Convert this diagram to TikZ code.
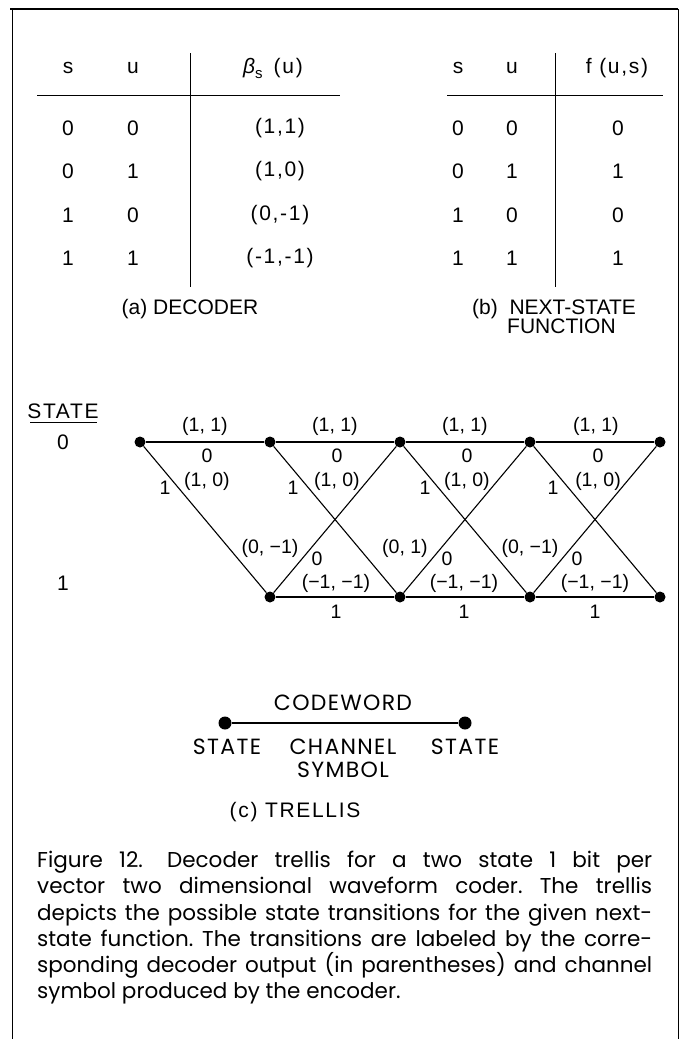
\documentclass[tikz,border=0pt]{standalone}
\usepackage{fontspec}
\setmainfont{Liberation Sans}
\newfontfamily\capfont{Poppins}
\newfontfamily\widefont[LetterSpace=8]{Liberation Sans}
\newfontfamily\legfamily[LetterSpace=6]{Poppins}
\newcommand\tabfont{\widefont\fontsize{21}{25}\selectfont}
\newcommand\subcapfont{\fontsize{21}{25}\selectfont}
\newcommand\trfont{\fontsize{19.5}{23}\selectfont}
\newcommand\legfont{\legfamily\fontsize{22}{26}\selectfont}
\newcommand\capsize{\fontsize{21.5}{26}\selectfont}
\begin{document}
\frenchspacing
\begin{tikzpicture}[x=1pt,y=-1pt,
  tab/.style={inner sep=0pt,font=\tabfont},
  subcap/.style={inner sep=0pt,font=\subcapfont},
  lab/.style={inner sep=0pt,font=\trfont},
  leg/.style={inner sep=0pt,font=\legfont},
  dot/.style={circle,fill=black,inner sep=0pt,minimum size=11pt},
  bigdot/.style={circle,fill=black,inner sep=0pt,minimum size=13pt},
  edge/.style={line width=1.1pt},
  rule/.style={line width=1pt},
  capline/.style={anchor=base west,inner sep=0pt,font=\capfont\capsize}]
\useasboundingbox (0,0) rectangle (688,1039);
% frame
\draw[line width=1.4pt] (10,9) -- (678,9);
\draw[line width=1pt] (12,9) -- (12,1039);
\draw[line width=1pt] (678,9) -- (678,1039);

% ---- table (a)
\node[tab] (ah1) at (68,68) {s};
\node[tab] (ah2) at (133,68) {u};
\node[tab] (ah3) at (273,68) {{\itshape β}\raisebox{-5pt}{\fontsize{15}{17}\selectfont s}\ \,(u)};
\draw[rule] (37,95) -- (340,95);
\draw[rule] (190,53) -- (190,287);
\foreach \y/\s/\u/\b [count=\i] in {128/0/0/{(1,1)},171/0/1/{(1,0)},215/1/0/{(0,-1)},258/1/1/{(-1,-1)}}{
  \node[tab] (as\i) at (68,\y) {\s};
  \node[tab] (au\i) at (133,\y) {\u};
  \node[tab] (ab\i) at (280,\y) {\b};
}
\node[subcap] (acap) at (190,309) {(a) DECODER};

% ---- table (b)
\node[tab] (bh1) at (458,68) {s};
\node[tab] (bh2) at (512,68) {u};
\node[tab] (bh3) at (617,68) {f (u,s)};
\draw[rule] (447,95) -- (663,95);
\draw[rule] (555,53) -- (555,287);
\foreach \y/\s/\u/\f [count=\i] in {128/0/0/0,171/0/1/1,215/1/0/0,258/1/1/1}{
  \node[tab] (bs\i) at (458,\y) {\s};
  \node[tab] (bu\i) at (512,\y) {\u};
  \node[tab] (bf\i) at (618,\y) {\f};
}
\node[subcap,anchor=north west,align=left] (bcap) at (472,299) {(b)\ \ NEXT-STATE\\[-6pt]\hspace{35pt}FUNCTION};

% ---- trellis
\node[tab] (stl) at (63,411) {STATE};
\draw[rule] (30,422) -- (97,422);
\node[tab] (st0) at (63,442) {0};
\node[tab] (st1) at (63,583) {1};

\foreach \x [count=\i from 0] in {140,270,400,530,660}{
  \node[dot] (T\i) at (\x,442) {};
}
\foreach \x [count=\i from 1] in {270,400,530,660}{
  \node[dot] (B\i) at (\x,597) {};
}
\draw[edge] (T0) -- (T1) -- (T2) -- (T3) -- (T4);
\draw[edge] (B1) -- (B2) -- (B3) -- (B4);
\draw[edge] (T0) -- (B1);
\draw[edge] (T1) -- (B2);
\draw[edge] (T2) -- (B3);
\draw[edge] (T3) -- (B4);
\draw[edge] (B1) -- (T2);
\draw[edge] (B2) -- (T3);
\draw[edge] (B3) -- (T4);

% top labels
\foreach \x/\xo [count=\i] in {205/165,335/293,465/425,596/553}{
  \node[lab] (p\i) at (\x,426) {(1, 1)};
  \node[lab] (z\i) at (\x+2,456) {0};
  \node[lab] (q\i) at (\x+2,481) {(1, 0)};
  \node[lab] (o\i) at (\xo,488) {1};
}
% bottom labels
\node[lab] (r2) at (270,548) {(0, −1)};
\node[lab] (r3) at (405,548) {(0, 1)};
\node[lab] (r4) at (530,548) {(0, −1)};
\foreach \x [count=\i from 2] in {317,447,577}{
  \node[lab] (w\i) at (\x,559) {0};
}
\foreach \x [count=\i from 2] in {336,464,595}{
  \node[lab] (m\i) at (\x,583) {(−1, −1)};
  \node[lab] (n\i) at (\x,612) {1};
}

% ---- legend
\node[bigdot] (L1) at (225,723) {};
\node[bigdot] (L2) at (465,723) {};
\draw[edge] (L1) -- (L2);
\node[leg] (lcw) at (343,703) {CODEWORD};
\node[leg] (ls1) at (227,747) {STATE};
\node[leg] (lch) at (343,747) {CHANNEL};
\node[leg] (ls2) at (465,747) {STATE};
\node[leg] (lsy) at (343,770) {SYMBOL};
\node[tab] (ctr) at (295,812) {(c) TRELLIS};

% ---- caption
\node[capline] (c1) at (37,867) {\makebox[615pt][s]{Figure 12.\hspace{8pt}\ Decoder trellis for a two state 1 bit per}};
\node[capline] (c2) at (37,893) {\makebox[615pt][s]{vector two dimensional waveform coder. The trellis}};
\node[capline] (c3) at (37,920) {\makebox[615pt][s]{depicts the possible state transitions for the given next-}};
\node[capline] (c4) at (37,946) {\makebox[615pt][s]{state function. The transitions are labeled by the corre-}};
\node[capline] (c5) at (37,972) {\makebox[615pt][s]{sponding decoder output (in parentheses) and channel}};
\node[capline] (c6) at (37,998) {symbol produced by the encoder.};
\end{tikzpicture}
\end{document}
